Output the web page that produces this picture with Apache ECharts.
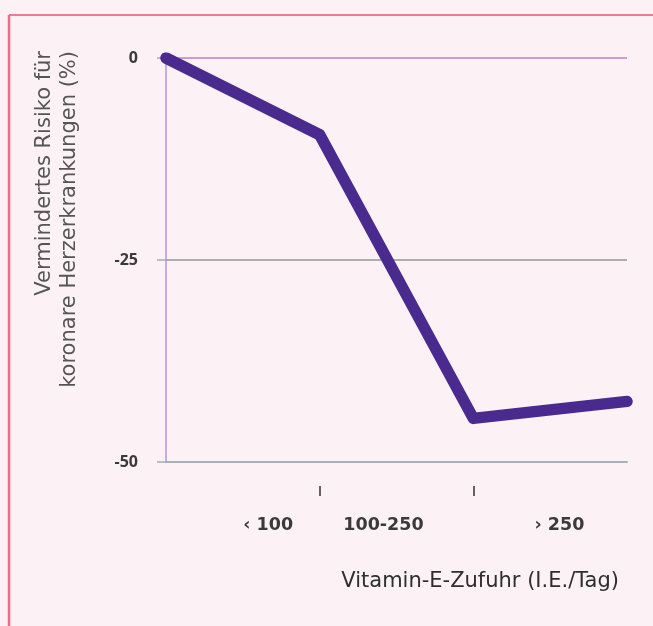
<!DOCTYPE html>
<html>
<head>
<meta charset="utf-8">
<script src="https://cdn.jsdelivr.net/npm/echarts@6/dist/echarts.min.js"></script>
<style>
html,body{margin:0;padding:0;background:#fcf2f5;}
#c{width:653px;height:626px;}
</style>
</head>
<body>
<div id="c"></div>
<script>
// Data
const xPositions = [0, 1, 2, 3];
const riskValues = [0, -9.5, -44.6, -42.5];
const yTicks = [0, -25, -50];
const xLabels = ['‹ 100', '100-250', '› 250'];
const xLabelAnchors = [0.665, 1.415, 2.56];
const xTickValues = [1, 2];
const yName1 = 'Vermindertes Risiko für';
const yName2 = 'koronare Herzerkrankungen (%)';
const xName = 'Vitamin-E-Zufuhr (I.E./Tag)';

const FONT = '"Open Sans", "DejaVu Sans", sans-serif';
const WIDE = '"DejaVu Sans", sans-serif';
const chart = echarts.init(document.getElementById('c'), null, {renderer: 'canvas'});

const lineData = xPositions.map((x, i) => [x, riskValues[i]]);

chart.setOption({
  backgroundColor: '#fcf2f5',
  animation: false,
  grid: [
    {left: 166, right: 26, top: 58, bottom: 164, containLabel: false},
    {left: 166, right: 26, top: 485, height: 1, containLabel: false}
  ],
  xAxis: [
    {
      type: 'value', min: 0, max: 3, position: 'bottom', gridIndex: 0,
      axisLine: {show: true, onZero: false, lineStyle: {color: '#aab0ba', width: 2}},
      axisTick: {show: false}, axisLabel: {show: false}, splitLine: {show: false}
    },
    {
      type: 'value', min: 0, max: 3, position: 'bottom', gridIndex: 1,
      axisLine: {show: false, onZero: false},
      axisTick: {show: true, customValues: xTickValues, length: 10, lineStyle: {color: '#333', width: 1.5}},
      axisLabel: {
        show: true, customValues: xLabelAnchors, margin: 30,
        color: '#3a3a3a', fontFamily: WIDE, fontSize: 17.5, fontWeight: 'bold',
        formatter: function (v) {
          let best = 0, d = 1e9;
          xLabelAnchors.forEach((a, i) => { if (Math.abs(a - v) < d) { d = Math.abs(a - v); best = i; } });
          return xLabels[best];
        }
      },
      splitLine: {show: false}
    }
  ],
  yAxis: [
    {
      type: 'value', min: -50, max: 0, interval: 25, gridIndex: 0,
      axisLine: {show: true, lineStyle: {color: '#b994d6', width: 1.5}},
      axisTick: {show: true, length: 9, lineStyle: {color: '#a8aab4', width: 1.5}},
      axisLabel: {
        margin: 28, color: '#3a3a3a', fontFamily: FONT, fontSize: 16, fontWeight: 'bold',
        formatter: v => yTicks.includes(v) ? String(v) : ''
      },
      splitLine: {show: true, lineStyle: {color: ['#a8aeb8', '#8e9a92', '#c47ccc'], width: 1.5}}
    },
    {
      type: 'value', gridIndex: 1, show: false, min: 0, max: 1
    }
  ],
  title: {
    text: xName, right: 29, top: 566,
    textStyle: {fontFamily: WIDE, fontSize: 21, fontWeight: 'normal', color: '#2e2e2e'}
  },
  graphic: [
    {type: 'line', shape: {x1: 9, y1: 15, x2: 653, y2: 15}, style: {stroke: '#ee7a92', lineWidth: 2}},
    {type: 'line', shape: {x1: 9, y1: 15, x2: 9, y2: 626}, style: {stroke: '#f06a8c', lineWidth: 2.5}},
    {type: 'text', x: 45, y: 51, rotation: Math.PI / 2,
      style: {text: yName1, align: 'right', verticalAlign: 'middle', fontFamily: WIDE, fontSize: 21, fill: '#555'}},
    {type: 'text', x: 70, y: 51, rotation: Math.PI / 2,
      style: {text: yName2, align: 'right', verticalAlign: 'middle', fontFamily: WIDE, fontSize: 21, fill: '#555'}}
  ],
  series: [{
    type: 'line', xAxisIndex: 0, yAxisIndex: 0, data: lineData, showSymbol: false, symbol: 'none',
    lineStyle: {color: '#4a2a8e', width: 11.5, cap: 'round', join: 'round'},
    z: 5
  }]
});
</script>
</body>
</html>
